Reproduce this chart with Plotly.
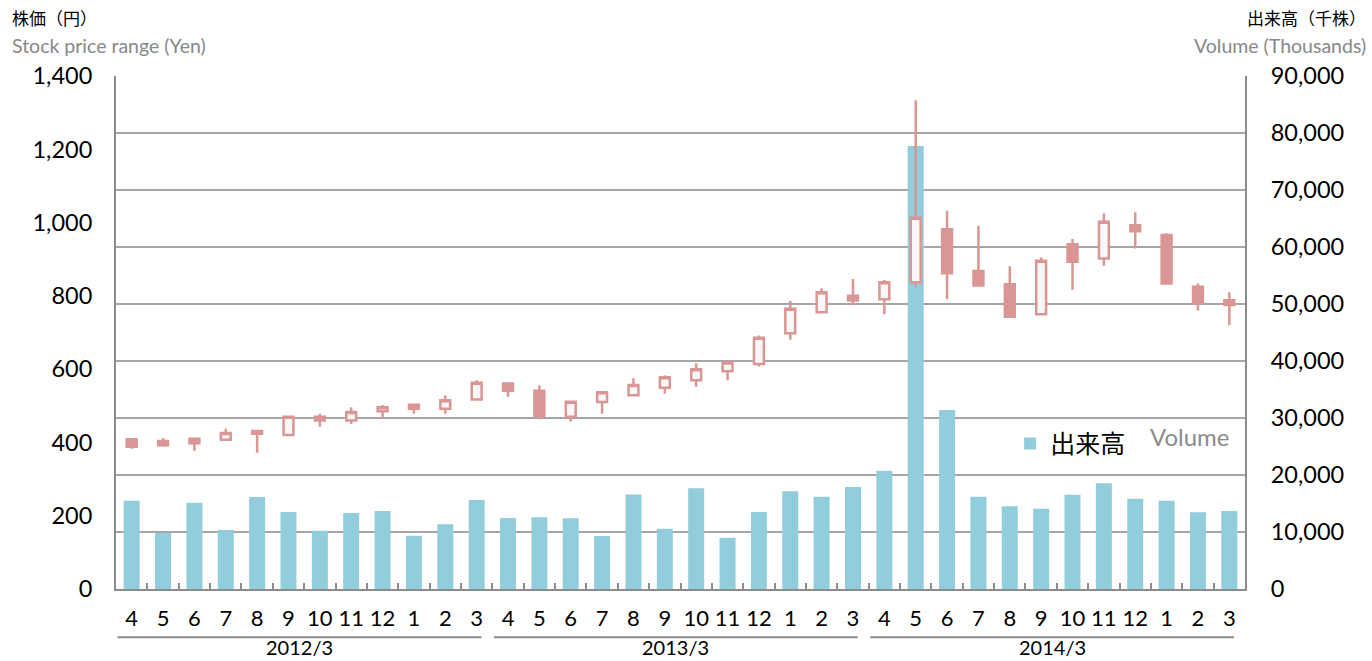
import plotly.graph_objects as go

FONT = "Lato, 'Noto Sans CJK JP', sans-serif"
PRICE_CLR = "#D99694"
VOL_CLR = "#92CDDC"
AXIS_CLR = "#8C8C8C"
GRID_CLR = "#A6A6A6"

periods = [
    "2012-04", "2012-05", "2012-06", "2012-07", "2012-08", "2012-09",
    "2012-10", "2012-11", "2012-12", "2013-01", "2013-02", "2013-03",
    "2013-04", "2013-05", "2013-06", "2013-07", "2013-08", "2013-09",
    "2013-10", "2013-11", "2013-12", "2014-01", "2014-02", "2014-03",
    "2014-04", "2014-05", "2014-06", "2014-07", "2014-08", "2014-09",
    "2014-10", "2014-11", "2014-12", "2015-01", "2015-02", "2015-03",
]
months = [
    "4", "5", "6", "7", "8", "9", "10", "11", "12", "1", "2", "3",
    "4", "5", "6", "7", "8", "9", "10", "11", "12", "1", "2", "3",
    "4", "5", "6", "7", "8", "9", "10", "11", "12", "1", "2", "3",
]
fiscal_years = ["2012/3", "2013/3", "2014/3"]

price_open = [409, 404, 410, 407, 431, 420, 470, 460, 485, 503, 492, 517,
              561, 541, 470, 510, 529, 549, 570, 594, 614, 698, 755, 800,
              791, 837, 982, 868, 832, 750, 941, 902, 993, 966, 825, 788]
price_high = [412, 412, 411, 437, 433, 472, 478, 496, 502, 504, 529, 570,
              563, 556, 512, 538, 575, 583, 616, 621, 692, 786, 821, 846,
              843, 1334, 1032, 991, 881, 905, 955, 1025, 1028, 971, 834, 810]
price_low = [383, 388, 377, 405, 372, 418, 443, 450, 467, 478, 478, 514,
             525, 463, 457, 478, 528, 533, 552, 570, 607, 680, 752, 775,
             750, 825, 791, 828, 742, 750, 816, 882, 929, 832, 760, 720]
price_close = [388, 392, 398, 426, 424, 470, 460, 483, 496, 492, 515, 563,
               541, 472, 511, 537, 557, 578, 600, 618, 686, 765, 810, 787,
               837, 1013, 862, 828, 743, 896, 893, 1002, 976, 834, 780, 775]

volume = [15490, 9820, 15140, 10350, 16140, 13510, 10230, 13330, 13680, 9350, 11350, 15610,
          12450, 12570, 12400, 9300, 16600, 10580, 17660, 9000, 13510, 17130, 16190, 17890,
          20750, 77740, 31400, 16190, 14500, 14090, 16540, 18540, 15840, 15490, 13450, 13680]

fig = go.Figure()

# volume bars on the base axis so the candles are drawn over them
fig.add_trace(
    go.Bar(
        x=periods,
        y=volume,
        name="出来高",
        marker=dict(color=VOL_CLR, line=dict(width=0)),
        yaxis="y",
        hovertemplate="%{x}<br>%{y:,}<extra></extra>",
    )
)

fig.add_trace(
    go.Candlestick(
        x=periods,
        open=price_open,
        high=price_high,
        low=price_low,
        close=price_close,
        yaxis="y2",
        showlegend=False,
        whiskerwidth=0,
        increasing=dict(line=dict(color=PRICE_CLR, width=2.5), fillcolor="#F8F8F8"),
        decreasing=dict(line=dict(color=PRICE_CLR, width=2.5), fillcolor=PRICE_CLR),
    )
)

# fiscal-year group lines and labels under the month ticks
for k, fy in enumerate(fiscal_years):
    x0 = 12 * k - 0.45
    x1 = 12 * k + 11.15
    fig.add_shape(
        type="line", xref="x", yref="paper", x0=x0, x1=x1, y0=-0.094, y1=-0.094,
        line=dict(color=AXIS_CLR, width=2),
    )
    fig.add_annotation(
        x=(x0 + x1) / 2, y=-0.1135, xref="x", yref="paper", text=fy,
        showarrow=False, font=dict(size=20, color="#000"), yanchor="middle",
        borderpad=0,
    )

heads = [
    (-0.0939, 1.113, "株価（円）", 17, "#000", "left"),
    (-0.0939, 1.060, "Stock price range (Yen)", 19.5, "#888", "left"),
    (1.109, 1.113, "出来高（千株）", 17, "#000", "right"),
    (1.109, 1.060, "Volume (Thousands)", 19.5, "#888", "right"),
]
for hx, hy, txt, sz, clr, anc in heads:
    fig.add_annotation(
        x=hx, y=hy, xref="paper", yref="paper", text=txt, showarrow=False,
        xanchor=anc, yanchor="middle", font=dict(size=sz, color=clr),
    )

fig.add_annotation(
    x=0.9885, y=0.298, xref="paper", yref="paper", text="Volume",
    showarrow=False, xanchor="right", yanchor="middle",
    font=dict(size=24, color="#8C8C8C"),
)

fig.update_layout(
    width=1372,
    height=661,
    plot_bgcolor="white",
    paper_bgcolor="white",
    font=dict(family=FONT, color="#000", size=20),
    margin=dict(l=116, r=127, t=76, b=72),
    bargap=0.49,
    boxgap=0.55,
    showlegend=True,
    legend=dict(
        x=0.792, y=0.283, xanchor="left", yanchor="middle",
        bgcolor="rgba(0,0,0,0)", font=dict(size=25, color="#000"),
        itemwidth=30,
    ),
    xaxis=dict(
        type="category",
        tickvals=periods,
        ticktext=months,
        tickangle=0,
        tickson="boundaries",
        ticks="inside",
        ticklen=6,
        tickwidth=2,
        tickcolor=AXIS_CLR,
        showline=True,
        linecolor=AXIS_CLR,
        linewidth=2,
        showgrid=False,
        rangeslider=dict(visible=False),
        range=[-0.5, 35.5],
        tickfont=dict(size=22),
        ticklabelstandoff=9,
    ),
    yaxis=dict(
        side="right",
        range=[0, 90000],
        dtick=10000,
        tickformat=",d",
        showgrid=True,
        gridcolor=GRID_CLR,
        gridwidth=2,
        zeroline=False,
        showline=True,
        linecolor=AXIS_CLR,
        linewidth=2,
        ticks="",
        tickfont=dict(size=23.5),
        ticklabelstandoff=19,
    ),
    yaxis2=dict(
        side="left",
        overlaying="y",
        range=[0, 1400],
        dtick=200,
        tickformat=",d",
        showgrid=False,
        zeroline=False,
        showline=True,
        linecolor=AXIS_CLR,
        linewidth=2,
        ticks="",
        tickfont=dict(size=23.5),
        ticklabelstandoff=17,
    ),
)

# the page body has a default 8px margin; drop it so the 1372x661 figure fills the window
fig.write_html(
    "out.html",
    config={"displayModeBar": False},
    post_script="document.body.style.margin='0';",
)
